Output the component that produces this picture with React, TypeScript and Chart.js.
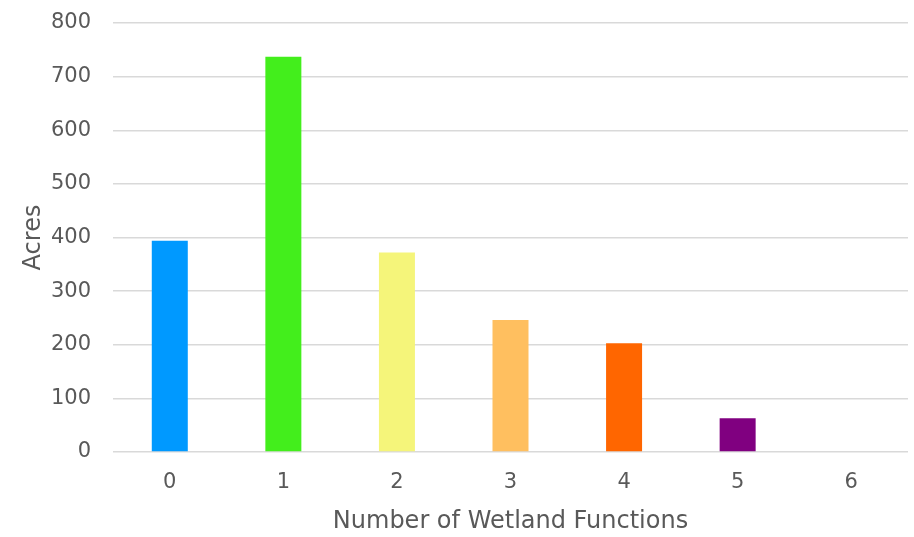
import React, { useEffect, useRef } from "react";
import { Chart, registerables } from "chart.js";

Chart.register(...registerables);

const categories = ["0", "1", "2", "3", "4", "5", "6"];
const acres = [394, 737, 372, 246, 203, 63, 0];
const barColors = ["#0099FF", "#43EE1C", "#F5F57A", "#FFBF5F", "#FF6600", "#800080", "#999999"];
const yTicks = [0, 100, 200, 300, 400, 500, 600, 700, 800];

const FONT = "'DejaVu Sans', sans-serif";

export default function App() {
  const ref = useRef<HTMLCanvasElement>(null);
  useEffect(() => {
    document.body.style.margin = "0";
    const ctx = ref.current!;
    const chart = new Chart(ctx, {
      type: "bar",
      data: {
        labels: categories,
        datasets: [
          {
            data: acres,
            backgroundColor: barColors,
            categoryPercentage: 1,
            barPercentage: 0.317,
          },
        ],
      },
      options: {
        responsive: false,
        animation: false,
        maintainAspectRatio: false,
        layout: { padding: { top: 23, right: 6, left: 0, bottom: 0 } },
        plugins: { legend: { display: false }, tooltip: { enabled: false } },
        scales: {
          x: {
            afterFit: (axis: any) => {
              axis.height = 85;
              axis.paddingLeft = 0;
              axis.paddingRight = 0;
            },
            grid: { display: false, drawTicks: false },
            border: { display: false },
            ticks: { color: "#595959", font: { family: FONT, size: 21 }, padding: 18 },
            title: {
              display: true,
              text: "Number of Wetland Functions",
              color: "#595959",
              font: { family: FONT, size: 24 },
              padding: { top: 0, bottom: 1 },
            },
          },
          y: {
            min: 0,
            max: 800,
            afterFit: (axis: any) => {
              axis.width = 113;
              axis.paddingTop = 0;
              axis.paddingBottom = 0;
            },
            afterBuildTicks: (axis: any) => {
              axis.ticks = yTicks.map((v) => ({ value: v }));
            },
            grid: { color: "#D9D9D9", lineWidth: 1.5, drawTicks: false },
            border: { display: false },
            ticks: { color: "#595959", font: { family: FONT, size: 21 }, padding: 22 },
            title: {
              display: true,
              text: "Acres",
              color: "#595959",
              font: { family: FONT, size: 24 },
              padding: { top: 19, bottom: 0 },
            },
          },
        },
      },
    });
    return () => chart.destroy();
  }, []);
  return <canvas ref={ref} width={914} height={537} style={{ display: "block" }} />;
}
